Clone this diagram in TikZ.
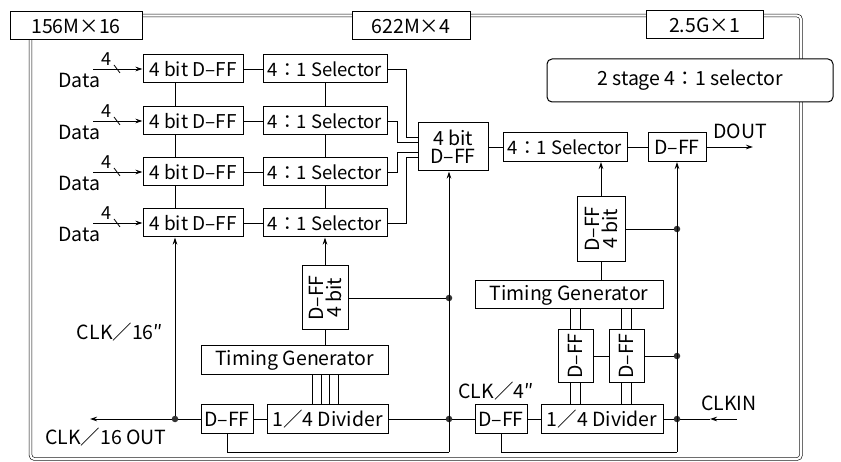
\documentclass[tikz,border=0pt]{standalone}
\usepackage{fontspec}
\setmainfont{Noto Sans CJK JP}
\usetikzlibrary{arrows.meta,calc}
\begin{document}
\begin{tikzpicture}[x=1pt,y=-1pt,
  txt/.style={font=\fontsize{19.5}{21}\selectfont},
  box/.style={draw, line width=1pt, fill=white, inner sep=0pt, align=center, txt},
  conn/.style={line width=0.8pt},
  arr/.style={conn, -{Stealth[length=7pt,width=4.5pt]}},
  frame/.style={double, double distance=2.2pt, line width=0.6pt},
  dot/.style={circle, fill=black!80, inner sep=0pt, minimum size=6.5pt},
  lbl/.style={inner sep=0pt, txt},
  selfont/.style={font=\fontsize{18.5}{20}\selectfont},
  ]
\useasboundingbox (0,0) rectangle (841,462);
% outer frame
\draw[frame, rounded corners=4pt] (30.5,15.5) rectangle (801,459);
% frame labels
\node[box, minimum width=132pt, minimum height=28pt] (b156) at (76,26) {156M×16};
\node[box, minimum width=118pt, minimum height=28pt] (b622) at (411,26) {622M×4};
\node[box, minimum width=117pt, minimum height=28pt] (b25) at (704.5,25) {2.5G×1};
\node[box, rounded corners=5pt, minimum width=286pt, minimum height=43pt] (stage) at (690,80.5) {2 stage 4：1 selector};

% dots and free ends
\node[dot] (dA) at (175,419) {};
\node[dot] (dB) at (449,298) {};
\node[dot] (dC) at (449,419) {};
\node[dot] (dD) at (677,229) {};
\node[dot] (dE) at (677,356) {};
\node[dot] (dF) at (677,419) {};
\coordinate (cb1) at (449,452);
\coordinate (cb2) at (677,452);
\coordinate (out16) at (90,419);
\coordinate (dout) at (753,147);
\coordinate (clksrc) at (737,419);
\coordinate (clkmid) at (710,419);

% first stage rows
\foreach \i/\y in {1/69,2/121,3/172,4/223} {
  \node[box, minimum width=100pt, minimum height=28pt, font=\fontsize{19}{21}\selectfont] (ff\i) at (193,\y) {4 bit D--FF};
  \node[box, selfont, minimum width=124pt, minimum height=28pt] (sel\i) at (325,\y) {4：1 Selector};
  \draw[conn] (ff\i) -- (sel\i);
  \node[lbl] (data\i) at (79,\y+11) {Data};
  \node[lbl, font=\fontsize{18}{20}\selectfont] (n\i) at (106,\y-10) {4};
  \coordinate (in\i) at (93,\y);
  \draw[arr] (in\i) -- (ff\i);
  \draw[conn] (114,\y-4) -- (120,\y+4);
}
\foreach \a/\b in {1/2,2/3,3/4} {
  \draw[conn] (ff\a.south -| dA) -- (ff\b.north -| dA);
  \draw[conn] (sel\a) -- (sel\b);
}

% second stage
\node[box, minimum width=70pt, minimum height=48pt] (mdff) at (453,147) {4 bit\\[-3pt]D--FF};
\node[box, selfont, minimum width=124pt, minimum height=29pt] (sel5) at (565,147) {4：1 Selector};
\node[box, minimum width=58pt, minimum height=29pt] (fdff) at (677,147) {D--FF};
\draw[conn] (sel1.east) -- ++(19,0) |- ($(mdff.west)+(0,-10)$);
\draw[conn] (sel2.east) -- ++(10,0) |- ($(mdff.west)+(0,-5)$);
\draw[conn] (sel3.east) -- ++(10,0) |- ($(mdff.west)+(0,5)$);
\draw[conn] (sel4.east) -- ++(19,0) |- ($(mdff.west)+(0,10)$);
\draw[conn] (mdff) -- (sel5);
\draw[conn] (sel5) -- (fdff);
\draw[arr] (fdff) -- (dout);
\node[lbl] (doutl) at (740,131) {DOUT};

% left clock section
\node[box, minimum width=52pt, minimum height=29pt] (ldff) at (227,419) {D--FF};
\node[box, minimum width=121pt, minimum height=29pt] (ldiv) at (327.5,419) {1／4 Divider};
\node[box, minimum width=187pt, minimum height=29pt] (ltg) at (294.5,360.5) {Timing Generator};
\node[box, rotate=90, minimum width=64pt, minimum height=46pt] (lff4) at (325,298) {D--FF\\[-3pt]4 bit};
\draw[conn] (ldff) -- (ldiv);
\draw[conn] (ldff) -- (dA);
\draw[arr] (dA) -- (out16);
\draw[arr] (dA) -- (ff4.south -| dA);
\draw[arr] (lff4) -- (sel4);
\draw[conn] (ltg.north -| lff4) -- (lff4);
\draw[conn] (lff4) -- (dB);
\draw[conn] (ldiv) -- (dC);
\draw[conn] (dC) -- (475,419);
\draw[conn] (ldff.south) -- (ldff.south |- cb1) -- (cb1);
\draw[arr] (cb1) -- (cb1 |- mdff.south);
\foreach \k/\dx in {1/17.5,2/26.5,3/34.5,4/43.5} {
  \coordinate (t\k) at ([xshift=\dx pt]ltg.south);
  \draw[conn] (t\k) -- (t\k |- ldiv.north);
}
\node[lbl] (clk16) at (120,332) {CLK／16″};
\node[lbl] (clk16o) at (106,437) {CLK／16 OUT};

% right clock section
\node[box, minimum width=52pt, minimum height=29pt] (rdff) at (501,419) {D--FF};
\node[box, minimum width=122pt, minimum height=29pt] (rdiv) at (602,419) {1／4 Divider};
\node[box, minimum width=188pt, minimum height=28pt] (rtg) at (569,295) {Timing Generator};
\node[box, rotate=90, minimum width=52pt, minimum height=35pt] (rA) at (575.5,356) {D--FF};
\node[box, rotate=90, minimum width=52pt, minimum height=35pt] (rB) at (626.5,356) {D--FF};
\node[box, rotate=90, minimum width=65pt, minimum height=48pt] (rff4) at (601,229) {D--FF\\[-3pt]4 bit};
\draw[conn] (rdff) -- (rdiv);
\draw[conn] (rdiv) -- (dF);
\draw[arr] (clksrc) -- (clkmid);
\draw[conn] (clkmid) -- (dF);
\draw[conn] (rdff.south) -- (rdff.south |- cb2) -- (cb2);
\draw[arr] (cb2) -- (cb2 |- fdff.south);
\draw[conn] (rff4) -- (dD);
\draw[conn] (rA) -- (rB);
\draw[conn] (rB) -- (dE);
\draw[conn] (rtg.north -| rff4) -- (rff4);
\draw[arr] (rff4) -- (rff4 |- sel5.south);
\foreach \n in {rA,rB} {
  \foreach \s in {-5,5} {
    \coordinate (q) at ([xshift=\s pt]\n.center);
    \draw[conn] (q |- rtg.south) -- (q |- \n.east);
    \draw[conn] (q |- \n.west) -- (q |- rdiv.north);
  }
}
\node[lbl] (clk4) at (496,391) {CLK／4″};
\node[lbl] (clkin) at (729,403) {CLKIN};
\end{tikzpicture}
\end{document}
